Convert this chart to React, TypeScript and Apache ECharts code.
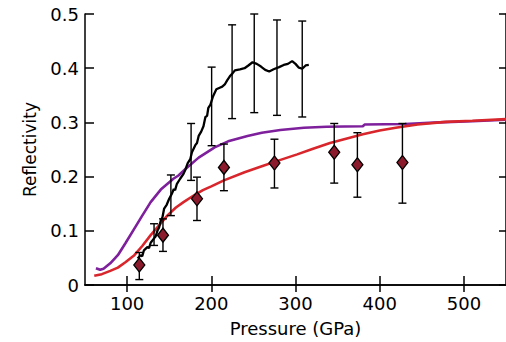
import React, { useEffect, useRef } from "react";
import * as echarts from "echarts";

const xTickValues = [100, 200, 300, 400, 500];
const yTickValues = [0, 0.1, 0.2, 0.3, 0.4, 0.5];

// Purple model curve [P (GPa), reflectivity]
const purpleCurve: [number, number][] = [
  [63, 0.031], [68, 0.028], [72, 0.03], [80, 0.04], [89, 0.055], [98, 0.077],
  [108.6, 0.104], [118, 0.128], [128, 0.153], [140, 0.176], [155, 0.196],
  [161, 0.202], [170, 0.215], [185, 0.235], [204, 0.254], [220, 0.265],
  [243, 0.275], [260, 0.281], [282, 0.286], [310, 0.29], [337, 0.292],
  [380, 0.293], [382, 0.296], [430, 0.297], [470, 0.3], [510, 0.302], [550, 0.305],
];

// Red model curve
const redCurve: [number, number][] = [
  [61, 0.017], [70, 0.02], [80, 0.026], [89, 0.032], [98, 0.042], [108.6, 0.055],
  [118, 0.072], [128, 0.092], [138, 0.11], [147.7, 0.128], [158, 0.143],
  [167, 0.153], [180, 0.166], [190, 0.175], [200, 0.182], [215, 0.193],
  [239.5, 0.208], [260, 0.219], [278.6, 0.229], [302, 0.241], [320, 0.251],
  [341, 0.262], [360, 0.27], [380, 0.278], [400, 0.285], [419, 0.29],
  [445, 0.296], [478, 0.301], [510, 0.303], [550, 0.306],
];

// Black measured trace
const blackTrace: [number, number][] = [
  [112.5, 0.049], [116, 0.055], [118, 0.053], [120, 0.064], [124, 0.07],
  [126, 0.068], [128, 0.078], [132, 0.086], [134, 0.09], [136, 0.1],
  [138, 0.106], [140, 0.119], [142, 0.125], [144, 0.141], [147, 0.148],
  [150, 0.159], [153, 0.168], [155.5, 0.177], [157, 0.175], [159, 0.186],
  [163, 0.196], [167, 0.205], [169, 0.212], [172, 0.225], [175, 0.232],
  [177, 0.245], [181, 0.258], [183, 0.262], [185, 0.275], [188, 0.283],
  [190.7, 0.293], [193, 0.31], [195, 0.312], [196.5, 0.327], [199, 0.333],
  [202, 0.348], [206, 0.361], [210, 0.364], [213, 0.366], [216, 0.37],
  [219, 0.378], [222, 0.385], [225, 0.39], [228, 0.396], [234, 0.398],
  [239.5, 0.4], [244, 0.405], [249, 0.411], [254, 0.408], [259, 0.403],
  [264, 0.397], [268.8, 0.394], [274, 0.398], [280.5, 0.402], [286, 0.406],
  [291, 0.408], [296, 0.413], [300, 0.408], [304, 0.401], [308, 0.399],
  [312, 0.405], [315.8, 0.406],
];

// Error bars on the black trace: [P, low, high]
const blackErrorBars: [number, number, number][] = [
  [132, 0.073, 0.113], [152, 0.128, 0.203], [176, 0.193, 0.298],
  [200.4, 0.257, 0.402], [224.7, 0.307, 0.48], [251, 0.318, 0.5],
  [278, 0.313, 0.489], [308, 0.31, 0.487],
];

// Diamond data points
const diamondP = [114.5, 142.6, 183, 215, 275, 346, 373.5, 427];
const diamondR = [0.037, 0.092, 0.159, 0.217, 0.225, 0.245, 0.222, 0.226];
const diamondLow = [0.01, 0.062, 0.119, 0.174, 0.179, 0.188, 0.162, 0.151];
const diamondHigh = [0.06, 0.122, 0.199, 0.26, 0.269, 0.298, 0.281, 0.298];

const FONT = "DejaVu Sans";

function errorBarRender(params: any, api: any) {
  const x = api.value(0);
  const lo = api.value(1);
  const hi = api.value(2);
  const pLo = api.coord([x, lo]);
  const pHi = api.coord([x, hi]);
  const hw = 4;
  const style = { stroke: "#000", lineWidth: 1.4 };
  return {
    type: "group",
    children: [
      { type: "line", shape: { x1: pLo[0], y1: pLo[1], x2: pHi[0], y2: pHi[1] }, style },
      { type: "line", shape: { x1: pLo[0] - hw, y1: pLo[1], x2: pLo[0] + hw, y2: pLo[1] }, style },
      { type: "line", shape: { x1: pHi[0] - hw, y1: pHi[1], x2: pHi[0] + hw, y2: pHi[1] }, style },
    ],
  };
}

export default function App() {
  const ref = useRef<HTMLDivElement>(null);
  useEffect(() => {
    if (!ref.current) return;
    const chart = echarts.init(ref.current, null, { renderer: "svg" });
    const axisLine = { show: true, lineStyle: { color: "#000", width: 1.5 } };
    const diamondData = diamondP.map((p, i) => [p, diamondR[i]]);
    const diamondBars = diamondP.map((p, i) => [p, diamondLow[i], diamondHigh[i]]);
    chart.setOption({
      animation: false,
      backgroundColor: "#fff",
      textStyle: { fontFamily: FONT },
      grid: { left: 85, top: 14, width: 427, height: 272.7 },
      xAxis: [
        {
          type: "value",
          min: 50,
          max: 550,
          position: "bottom",
          axisLine,
          axisTick: { show: true, inside: true, length: 9, customValues: xTickValues, lineStyle: { color: "#000", width: 1.5 } },
          axisLabel: { show: true, customValues: xTickValues, color: "#000", fontSize: 18, fontFamily: FONT, margin: 9 },
          splitLine: { show: false },
          name: "Pressure (GPa)",
          nameLocation: "middle",
          nameGap: 34,
          nameTextStyle: { color: "#000", fontSize: 18, fontFamily: FONT },
        },
        {
          type: "value",
          min: 50,
          max: 550,
          position: "top",
          axisLine,
          axisTick: { show: true, inside: true, length: 7, customValues: xTickValues, lineStyle: { color: "#000", width: 1.5 } },
          axisLabel: { show: false },
          splitLine: { show: false },
        },
      ],
      yAxis: [
        {
          type: "value",
          min: 0,
          max: 0.5,
          interval: 0.1,
          position: "left",
          axisLine,
          axisTick: { show: true, inside: true, length: 9, customValues: yTickValues, lineStyle: { color: "#000", width: 1.5 } },
          axisLabel: { show: true, color: "#000", fontSize: 18, fontFamily: FONT, margin: 6 },
          splitLine: { show: false },
          name: "Reflectivity",
          nameLocation: "middle",
          nameGap: 47,
          nameTextStyle: { color: "#000", fontSize: 17, fontFamily: FONT },
        },
        {
          type: "value",
          min: 0,
          max: 0.5,
          interval: 0.1,
          position: "right",
          axisLine,
          axisTick: { show: true, inside: true, length: 7, lineStyle: { color: "#000", width: 1.5 } },
          axisLabel: { show: false },
          splitLine: { show: false },
        },
      ],
      series: [
        {
          type: "line",
          data: purpleCurve,
          showSymbol: false,
          symbol: "none",
          lineStyle: { color: "#7e1f9c", width: 2.6 },
          z: 2,
        },
        {
          type: "line",
          data: redCurve,
          showSymbol: false,
          symbol: "none",
          lineStyle: { color: "#d8262c", width: 2.6 },
          z: 3,
        },
        {
          type: "line",
          data: blackTrace,
          showSymbol: false,
          symbol: "none",
          lineStyle: { color: "#000", width: 2.3 },
          z: 4,
        },
        {
          type: "custom",
          renderItem: errorBarRender,
          data: blackErrorBars,
          encode: { x: 0, y: [1, 2] },
          z: 5,
        },
        {
          type: "custom",
          renderItem: errorBarRender,
          data: diamondBars,
          encode: { x: 0, y: [1, 2] },
          z: 5,
        },
        {
          type: "scatter",
          data: diamondData,
          symbol: "diamond",
          symbolSize: [11, 14],
          itemStyle: { color: "#8a1a2c", borderColor: "#000", borderWidth: 1.3, opacity: 1 },
          z: 6,
        },
      ],
    });
    return () => chart.dispose();
  }, []);
  return <div ref={ref} style={{ width: 506, height: 342, position: "absolute", left: 0, top: 0 }} />;
}
